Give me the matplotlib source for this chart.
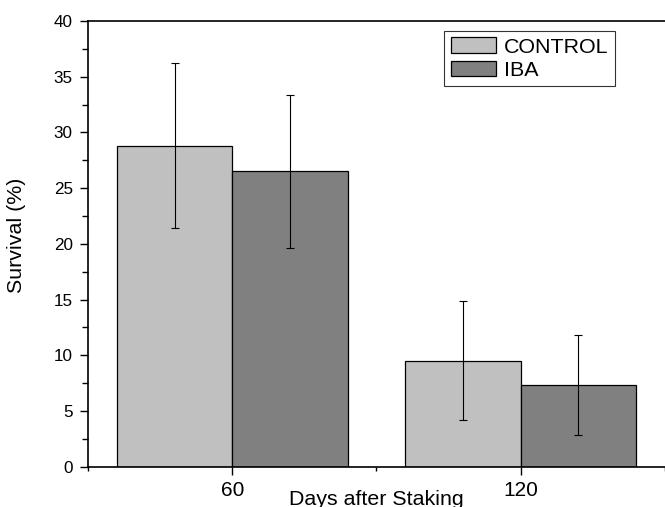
import numpy as np
import matplotlib
matplotlib.use('Agg')
import matplotlib.pyplot as plt
from matplotlib.ticker import MultipleLocator

plt.rcParams['font.family'] = ['Liberation Sans', 'DejaVu Sans']

#%% Data
days      = ['60', '120']
control   = [28.8, 9.5]
control_e = [7.4, 5.35]
iba       = [26.5, 7.3]
iba_e     = [6.9, 4.5]

#%% Plot
fig = plt.figure(figsize=(6.65, 5.07), dpi=100)
ax = fig.add_axes([0.1323, 0.0795, 0.8677, 0.8791])

x = np.arange(1, len(days) + 1)
w = 0.4
ax.bar(x - w/2, control, w, color='#c0c0c0', edgecolor='black', linewidth=0.9,
       label='CONTROL')
ax.bar(x + w/2, iba, w, color='#808080', edgecolor='black', linewidth=0.9,
       label='IBA')
ax.errorbar(x - w/2, control, yerr=control_e, fmt='none', ecolor='black',
            elinewidth=0.8, capsize=3.2, capthick=0.8)
ax.errorbar(x + w/2, iba, yerr=iba_e, fmt='none', ecolor='black',
            elinewidth=0.8, capsize=3.2, capthick=0.8)

ax.set_xlim(0.5, 2.5)
ax.set_ylim(0, 40)
ax.set_xticks(x)
ax.set_xticklabels(days)
ax.xaxis.set_minor_locator(MultipleLocator(0.5))
ax.yaxis.set_major_locator(MultipleLocator(5))
ax.yaxis.set_minor_locator(MultipleLocator(2.5))

ax.tick_params(axis='x', which='major', direction='out', length=6, width=1,
               labelsize=15, pad=4)
ax.tick_params(axis='x', which='minor', direction='out', length=3, width=1)
ax.tick_params(axis='y', which='major', direction='out', length=6, width=1,
               labelsize=12.3, pad=5)
ax.tick_params(axis='y', which='minor', direction='out', length=4, width=1)
# hide minor x ticks sitting on the category ticks
for t, loc in zip(ax.xaxis.get_minor_ticks(), ax.xaxis.get_minorticklocs()):
    if abs(loc - round(loc)) < 1e-6:
        t.tick1line.set_visible(False)

for s in ['left', 'bottom', 'top']:
    ax.spines[s].set_linewidth(1.2)
ax.spines['right'].set_visible(False)

ax.set_xlabel('Days after Staking', fontsize=15.4)
ax.xaxis.set_label_coords(0.5, -0.052, transform=ax.transAxes)
ax.xaxis.label.set_verticalalignment('top')
ax.set_ylabel('Survival (%)', fontsize=15.4)
ax.yaxis.set_label_coords(-0.108, 0.52)

leg = ax.legend(loc='upper left', bbox_to_anchor=(0.6175, 0.978), fontsize=15.4,
                frameon=True, fancybox=False, edgecolor='black',
                handlelength=2.1, handleheight=0.75, handletextpad=0.4,
                labelspacing=0.2, borderpad=0.3, borderaxespad=0)
leg.get_frame().set_linewidth(0.8)

plt.savefig('out.png', dpi=100)
